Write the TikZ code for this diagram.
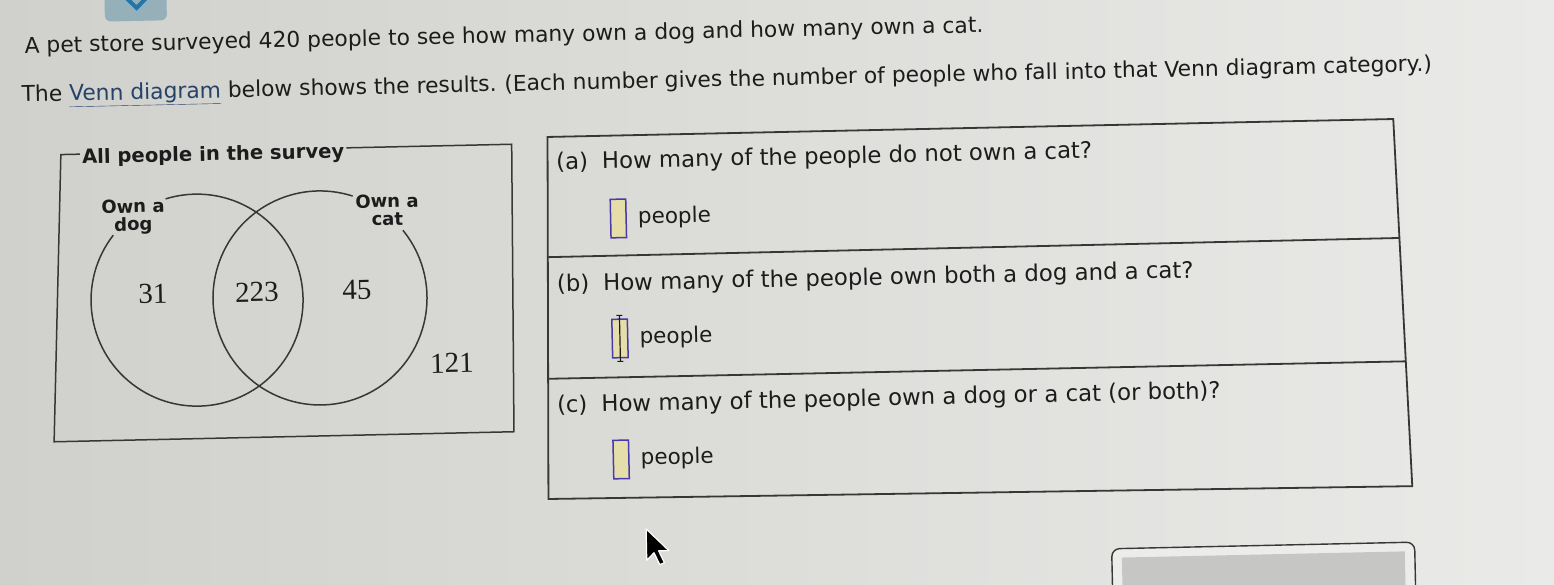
\documentclass[tikz,border=0pt]{standalone}
\usepackage{fontspec}
\setmainfont{DejaVu Sans}
\newfontfamily\numfont{Liberation Serif}
\usetikzlibrary{positioning,calc}

\definecolor{bgleft}{RGB}{208,208,204}
\definecolor{bgright}{RGB}{234,234,232}
\definecolor{ink}{RGB}{28,28,28}
\definecolor{frame}{RGB}{55,55,55}
\definecolor{linkblue}{RGB}{38,66,104}
\definecolor{ansline}{RGB}{72,58,168}
\definecolor{ansfill}{RGB}{230,222,170}
\definecolor{tabgray}{RGB}{150,176,186}
\definecolor{tabblue}{RGB}{34,118,170}
\definecolor{btnfill}{RGB}{236,236,234}
\definecolor{btninner}{RGB}{198,198,196}

\begin{document}
\begin{tikzpicture}[x=1pt,y=1pt,
  body/.style={font=\fontsize{21.8}{26}\selectfont, text=ink, inner sep=0pt},
  qtext/.style={font=\fontsize{22.8}{27}\selectfont, text=ink, inner sep=0pt},
  unit/.style={font=\fontsize{21.5}{26}\selectfont, text=ink, inner sep=0pt},
  setlbl/.style={font=\fontsize{18}{18}\selectfont\bfseries, text=ink, align=center, inner sep=0pt},
  count/.style={font=\numfont\fontsize{29}{29}\selectfont, text=ink, inner sep=0pt},
  answer/.style={draw=ansline, fill=ansfill, line width=1.5pt, minimum width=15.5pt, minimum height=38.5pt, inner sep=0pt},
  venn/.style={draw=frame, line width=1.5pt},
  panel/.style={draw=frame, line width=1.8pt}]

\useasboundingbox (0,0) rectangle (1554,-584);
\clip (0,0) rectangle (1554,-584);
\shade[left color=bgleft, right color=bgright] (0,0) rectangle (1554,-584);

\begin{scope}[rotate around={1.25:(777,-292)}, transform shape]

% tab at the top, cut off
\fill[tabgray, rounded corners=6pt] (111,25) rectangle (173,-7);
\draw[tabblue, line width=4pt] (132,17) -- (143,6) -- (154,17);

% question text
\node[body, anchor=base west] (intro) at (30,-37) {A pet store surveyed 420 people to see how many own a dog and how many own a cat.};
\node[body, anchor=base west] (intro2) at (26,-85.5) {The {\color{linkblue}\underline{Venn diagram}} below shows the results.};
\node[body, anchor=base west] (intro3) at ([xshift=7.5pt]intro2.base east) {(Each number gives the number of people who fall into that Venn diagram category.)};

% survey box
\node[coordinate] (vtl) at (64,-139) {};
\node[coordinate] (vtr) at (515,-138.5) {};
\node[coordinate] (vbl) at (51,-426) {};
\node[coordinate] (vbr) at (511,-426) {};
\node[setlbl, font=\fontsize{19.6}{20}\selectfont\bfseries, anchor=base west] (survey) at (85,-148.5) {All people in the survey};
\draw[venn] (survey.west |- vtl) ++(-2,0) -- (vtl) -- (vbl) -- (vbr) -- (vtr) -- ($(survey.east |- vtr)+(2,0)$);

% circles
\node[coordinate] (dogc) at (197,-287.5) {};
\node[coordinate] (catc) at (320,-288) {};
\draw[venn] (dogc) ++(141:106) arc (141:466:106);
\draw[venn] (catc) ++(71:107) arc (71:398:107);

% set labels
\node[setlbl] (dog) at (135,-203) {Own a\\dog};
\node[setlbl] (cat) at (389,-201.5) {Own a\\cat};

% counts
\node[count] (onlydog) at (153,-280) {31};
\node[count] (both) at (257,-281) {223};
\node[count] (onlycat) at (357,-281) {45};
\node[count] (neither) at (450.5,-356) {121};

% answer panel
\node[coordinate] (ptl) at (551,-132) {};
\node[coordinate] (ptr) at (1397,-132.5) {};
\node[coordinate] (pbl) at (544,-494) {};
\node[coordinate] (pbr) at (1408,-500) {};
\draw[panel] (ptl) -- (ptr) -- (pbr) -- (pbl) -- cycle;
\draw[panel] ($(ptl)!0.332!(pbl)$) -- ($(ptr)!0.324!(pbr)$);
\draw[panel] ($(ptl)!0.668!(pbl)$) -- ($(ptr)!0.66!(pbr)$);

\node[qtext, anchor=base west] (qa) at (559,-165) {(a)\hspace{14pt}How many of the people do not own a cat?};
\node[qtext, anchor=base west] (qb) at (557,-287) {(b)\hspace{14pt}How many of the people own both a dog and a cat?};
\node[qtext, anchor=base west] (qc) at (554.5,-408) {(c)\hspace{14pt}How many of the people own a dog or a cat (or both)?};

\node[answer] (ansa) at (620,-215) {};
\node[answer] (ansb) at (619,-335) {};
\node[answer] (ansc) at (617.5,-456) {};
\node[unit, right=11pt of ansa] (ppla) {people};
\node[unit, right=11pt of ansb] (pplb) {people};
\node[unit, right=11pt of ansc] (pplc) {people};

% text cursor in (b)
\draw[ink, line width=1.2pt] ($(ansb.north)+(0,3)$) -- ($(ansb.south)+(0,-3)$);
\draw[ink, line width=1pt] ($(ansb.north)+(-3,3)$) -- ++(6,0);
\draw[ink, line width=1pt] ($(ansb.south)+(-3,-3)$) -- ++(6,0);

% mouse pointer
\node[coordinate] (tip) at (641,-526) {};
\filldraw[fill=black, draw=white, line width=1.2pt, line join=round, shift={(tip)}, scale=1.85]
  (0,0) -- (0,-17) -- (4,-13) -- (7,-19.5) -- (9.5,-18.5) -- (6.5,-12) -- (12,-12) -- cycle;

% button at the bottom, cut off
\draw[frame, fill=btnfill, rounded corners=8pt, line width=1.4pt] (1106,-556) rectangle (1409,-610);
\fill[btninner] (1116,-565) rectangle (1399,-610);

\end{scope}
\end{tikzpicture}
\end{document}
